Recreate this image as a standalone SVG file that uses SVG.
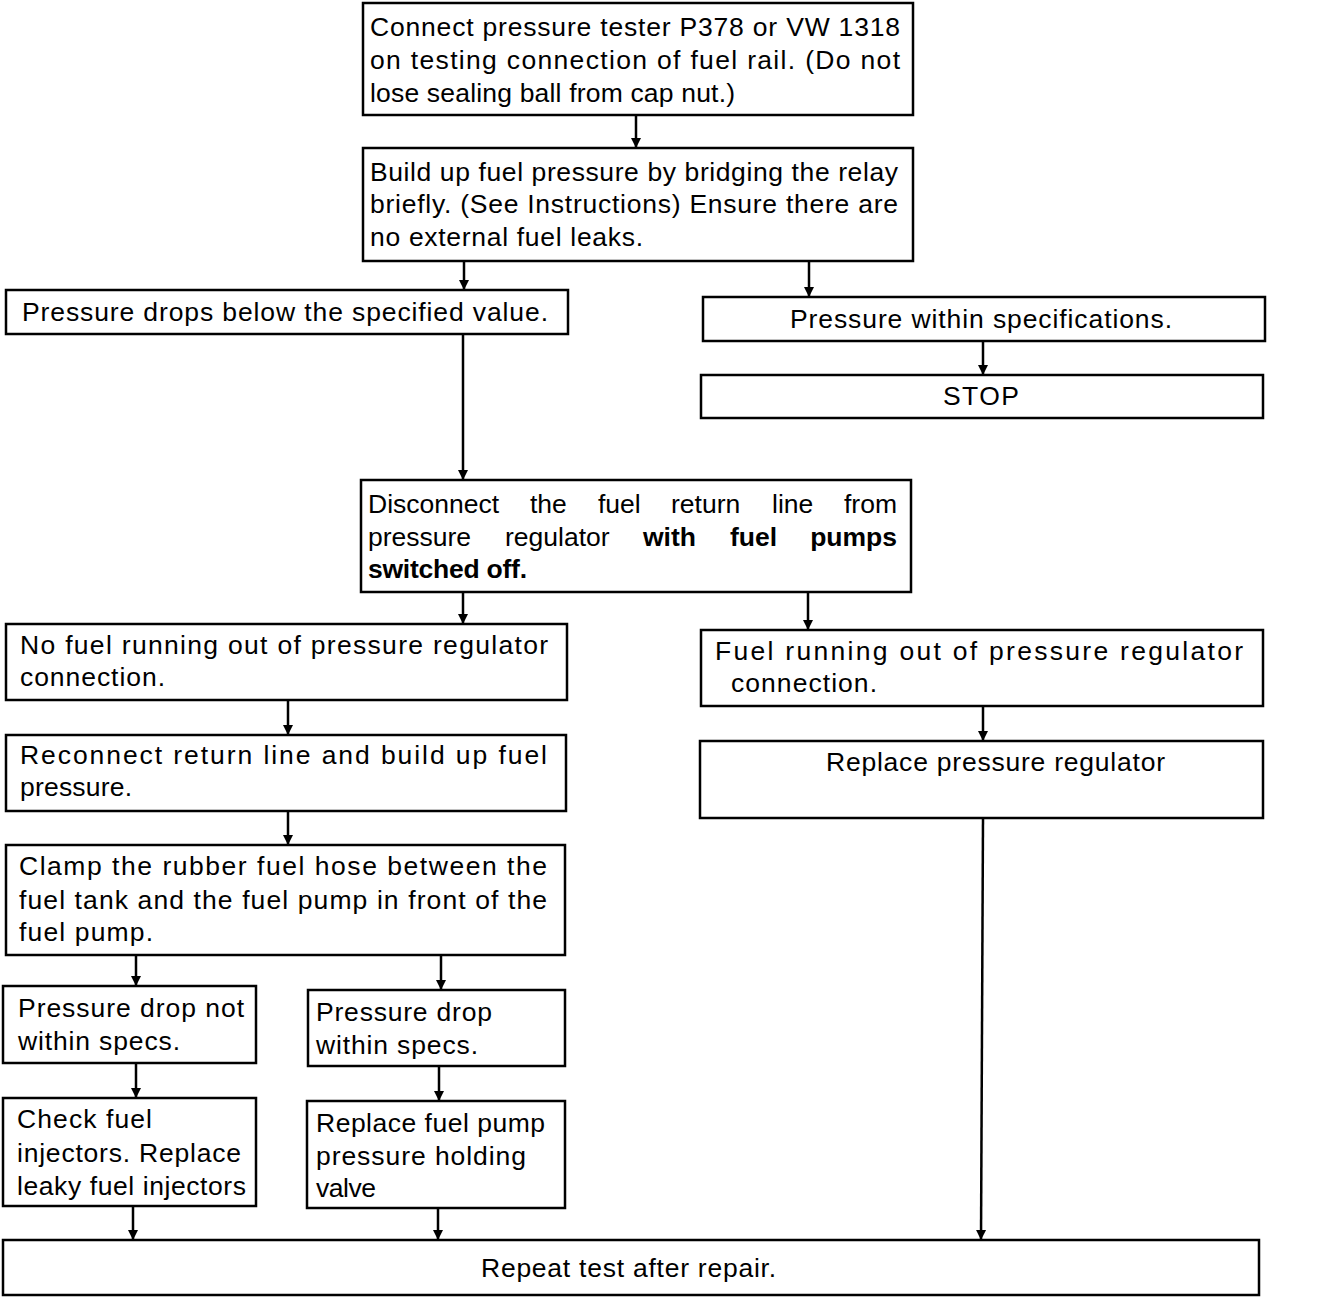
<svg xmlns="http://www.w3.org/2000/svg" width="1344" height="1298" viewBox="0 0 1344 1298">
<style>
rect{fill:#fff;stroke:#000;stroke-width:2.5}
text{font-family:"Liberation Sans",Arial,sans-serif;font-size:26.5px;fill:#000}
.b{font-weight:bold}
.e{text-anchor:end}
#connectors line{stroke:#000;stroke-width:2.5}
</style>
<defs>
<marker id="ah" viewBox="0 0 10 14" refX="10" refY="7" markerWidth="10" markerHeight="14" markerUnits="userSpaceOnUse" orient="auto"><path d="M0,2 L10,7 L0,12 Z" fill="#000"/></marker>
</defs>
<rect x="0" y="0" width="1344" height="1298" style="stroke:none"/>
<g id="connectors">
<line x1="636" y1="115" x2="636" y2="148" marker-end="url(#ah)"/>
<line x1="464" y1="261" x2="464" y2="290" marker-end="url(#ah)"/>
<line x1="809" y1="261" x2="809" y2="297" marker-end="url(#ah)"/>
<line x1="983" y1="341" x2="983" y2="375" marker-end="url(#ah)"/>
<line x1="463" y1="334" x2="463" y2="480" marker-end="url(#ah)"/>
<line x1="463" y1="592" x2="463" y2="624" marker-end="url(#ah)"/>
<line x1="808" y1="592" x2="808" y2="630" marker-end="url(#ah)"/>
<line x1="983" y1="706" x2="983" y2="741" marker-end="url(#ah)"/>
<line x1="288" y1="700" x2="288" y2="735" marker-end="url(#ah)"/>
<line x1="288" y1="811" x2="288" y2="845" marker-end="url(#ah)"/>
<line x1="136" y1="955" x2="136" y2="986" marker-end="url(#ah)"/>
<line x1="441" y1="955" x2="441" y2="990" marker-end="url(#ah)"/>
<line x1="136" y1="1063" x2="136" y2="1098" marker-end="url(#ah)"/>
<line x1="439" y1="1066" x2="439" y2="1101" marker-end="url(#ah)"/>
<line x1="133" y1="1206" x2="133" y2="1240" marker-end="url(#ah)"/>
<line x1="438" y1="1208" x2="438" y2="1240" marker-end="url(#ah)"/>
<line x1="983" y1="818" x2="981" y2="1240" marker-end="url(#ah)"/>
</g>
<g id="n1"><rect x="363" y="3" width="550" height="112"/>
<text x="370" y="36" textLength="530" lengthAdjust="spacing">Connect pressure tester P378 or VW 1318</text>
<text x="370" y="69" textLength="530" lengthAdjust="spacing">on testing connection of fuel rail. (Do not</text>
<text x="370" y="102" textLength="365" lengthAdjust="spacing">lose sealing ball from cap nut.)</text></g>
<g id="n2"><rect x="363" y="148" width="550" height="113"/>
<text x="370" y="181" textLength="528" lengthAdjust="spacing">Build up fuel pressure by bridging the relay</text>
<text x="370" y="213" textLength="528" lengthAdjust="spacing">briefly. (See Instructions) Ensure there are</text>
<text x="370" y="246" textLength="273" lengthAdjust="spacing">no external fuel leaks.</text></g>
<g id="n3"><rect x="6" y="290" width="562" height="44"/>
<text x="22" y="321" textLength="526" lengthAdjust="spacing">Pressure drops below the specified value.</text></g>
<g id="n4"><rect x="703" y="297" width="562" height="44"/>
<text x="790" y="328" textLength="382" lengthAdjust="spacing">Pressure within specifications.</text></g>
<g id="n5"><rect x="701" y="375" width="562" height="43"/>
<text x="943" y="405" textLength="76" lengthAdjust="spacing">STOP</text></g>
<g id="n6"><rect x="361" y="480" width="550" height="112"/>
<text y="513"><tspan x="368">Disconnect</tspan> <tspan x="530">the</tspan> <tspan x="598">fuel</tspan> <tspan x="671">return</tspan> <tspan x="772">line</tspan></text>
<text class="e" x="897" y="513">from</text>
<text y="546"><tspan x="368">pressure</tspan> <tspan x="505">regulator</tspan></text>
<text class="b" y="546"><tspan x="643">with</tspan> <tspan x="730">fuel</tspan></text>
<text class="b e" x="897" y="546">pumps</text>
<text class="b" x="368" y="578" textLength="159" lengthAdjust="spacing">switched off.</text></g>
<g id="n7"><rect x="6" y="624" width="561" height="76"/>
<text x="20" y="654" textLength="528" lengthAdjust="spacing">No fuel running out of pressure regulator</text>
<text x="20" y="686" textLength="145" lengthAdjust="spacing">connection.</text></g>
<g id="n8"><rect x="701" y="630" width="562" height="76"/>
<text x="715" y="660" textLength="528" lengthAdjust="spacing">Fuel running out of pressure regulator</text>
<text x="731" y="692" textLength="146" lengthAdjust="spacing">connection.</text></g>
<g id="n9"><rect x="700" y="741" width="563" height="77"/>
<text x="826" y="771" textLength="339" lengthAdjust="spacing">Replace pressure regulator</text></g>
<g id="n10"><rect x="6" y="735" width="560" height="76"/>
<text x="20" y="764" textLength="527" lengthAdjust="spacing">Reconnect return line and build up fuel</text>
<text x="20" y="796" textLength="112" lengthAdjust="spacing">pressure.</text></g>
<g id="n11"><rect x="6" y="845" width="559" height="110"/>
<text x="19" y="875" textLength="528" lengthAdjust="spacing">Clamp the rubber fuel hose between the</text>
<text x="19" y="909" textLength="528" lengthAdjust="spacing">fuel tank and the fuel pump in front of the</text>
<text x="19" y="941" textLength="134" lengthAdjust="spacing">fuel pump.</text></g>
<g id="n12"><rect x="3" y="986" width="253" height="77"/>
<text x="18" y="1017" textLength="226" lengthAdjust="spacing">Pressure drop not</text>
<text x="18" y="1050" textLength="162" lengthAdjust="spacing">within specs.</text></g>
<g id="n13"><rect x="308" y="990" width="257" height="76"/>
<text x="316" y="1021" textLength="176" lengthAdjust="spacing">Pressure drop</text>
<text x="316" y="1054" textLength="162" lengthAdjust="spacing">within specs.</text></g>
<g id="n14"><rect x="3" y="1098" width="253" height="108"/>
<text x="17" y="1128" textLength="135" lengthAdjust="spacing">Check fuel</text>
<text x="17" y="1162" textLength="224" lengthAdjust="spacing">injectors. Replace</text>
<text x="17" y="1195" textLength="229" lengthAdjust="spacing">leaky fuel injectors</text></g>
<g id="n15"><rect x="307" y="1101" width="258" height="107"/>
<text x="316" y="1132" textLength="229" lengthAdjust="spacing">Replace fuel pump</text>
<text x="316" y="1165" textLength="210" lengthAdjust="spacing">pressure holding</text>
<text x="316" y="1197" textLength="60" lengthAdjust="spacing">valve</text></g>
<g id="n16"><rect x="3" y="1240" width="1256" height="55"/>
<text x="481" y="1277" textLength="295" lengthAdjust="spacing">Repeat test after repair.</text></g>
</svg>
